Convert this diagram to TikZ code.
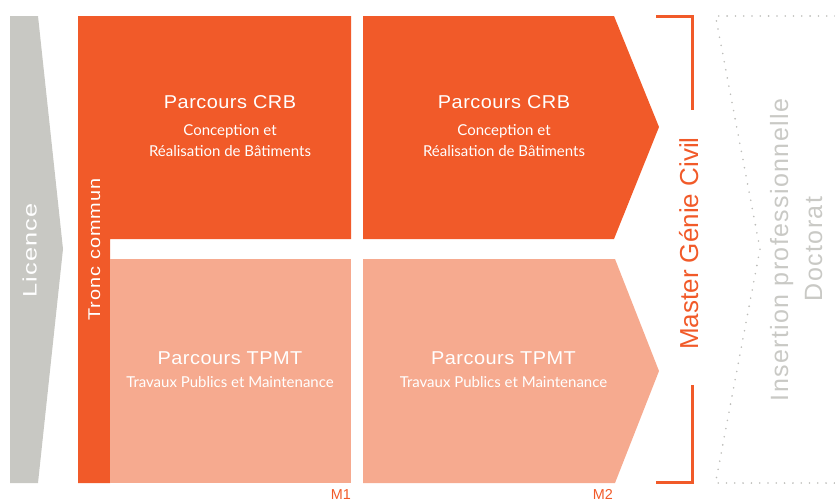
\documentclass[tikz,border=0pt]{standalone}
\usepackage{fontspec}
\setmainfont{Liberation Sans}
\newfontfamily\headfont[LetterSpace=2.5]{Liberation Sans}
\newfontfamily\licfont[LetterSpace=4.5]{Liberation Sans}
\newfontfamily\troncfont[LetterSpace=5]{Liberation Sans}
\newfontfamily\insfont[LetterSpace=5.5]{Liberation Sans}
\newfontfamily\subfont{Lato}
\definecolor{orangeM}{HTML}{F15A29}
\definecolor{paleM}{HTML}{F6AA8F}
\definecolor{grayL}{HTML}{C8C8C3}
\definecolor{grayT}{HTML}{C9C9C5}
\definecolor{grayD}{HTML}{BDBDBA}
\newcommand{\wideh}[1]{\scalebox{1.07}[1]{#1}}
\tikzset{
  heading/.style={text=white, anchor=base, inner sep=0pt, font=\headfont\fontsize{18.6}{20}\selectfont},
  subline/.style={text=white, anchor=base, inner sep=0pt, font=\subfont\fontsize{15}{17}\selectfont},
  mlabel/.style={text=orangeM, anchor=base east, inner sep=0pt, font=\fontsize{14.4}{16}\selectfont},
  vert/.style={rotate=90, anchor=base, inner sep=0pt},
}
\begin{document}
\begin{tikzpicture}[x=1pt,y=-1pt]
\useasboundingbox (0,0) rectangle (835,501);
% Licence arrow
\fill[grayL] (10,16) -- (38,16) -- (63,249) -- (38,483) -- (10,483) -- cycle;
\node[vert, text=white, font=\licfont\fontsize{19.5}{22}\selectfont] (licence) at (36.5,250.5) {\scalebox{1.3}[1]{Licence}};
% M1 top block + tronc commun
\fill[orangeM] (78,16) -- (351,16) -- (351,239) -- (110,239) -- (110,483) -- (78,483) -- cycle;
\fill[paleM] (110,259) rectangle (351,483);
% M2 blocks
\fill[orangeM] (363,16) -- (614,16) -- (659,127) -- (614,239) -- (363,239) -- cycle;
\fill[paleM] (363,259) -- (615,259) -- (659,371) -- (615,483) -- (363,483) -- cycle;
\node[vert, text=white, font=\troncfont\fontsize{17}{20}\selectfont] (tronc) at (100,249.5) {\scalebox{1.17}[1]{Tronc commun}};
% texts M1
\node[heading] (crb1) at (230,108.7) {\wideh{Parcours CRB}};
\node[subline] (crb1a) at (230,135) {Conception et};
\node[subline] (crb1b) at (230,156.5) {Réalisation de Bâtiments};
\node[heading] (tpmt1) at (230,364) {\wideh{Parcours TPMT}};
\node[subline] (tpmt1a) at (230,387.5) {Travaux Publics et Maintenance};
% texts M2
\node[heading] (crb2) at (504,108.7) {\wideh{Parcours CRB}};
\node[subline] (crb2a) at (504,135) {Conception et};
\node[subline] (crb2b) at (504,156.5) {Réalisation de Bâtiments};
\node[heading] (tpmt2) at (503.5,364) {\wideh{Parcours TPMT}};
\node[subline] (tpmt2a) at (503.5,387.5) {Travaux Publics et Maintenance};
% M labels
\node[mlabel] (m1) at (351,499.5) {M1};
\node[mlabel] (m2) at (613,499.5) {M2};
% bracket
\draw[orangeM, line width=3pt] (656,16.5) -- (692.5,16.5) -- (692.5,110);
\draw[orangeM, line width=3pt] (692.5,385) -- (692.5,482.5) -- (656,482.5);
\node[vert, text=orangeM, font=\fontsize{26}{30}\selectfont] (master) at (698,243.5) {Master Génie Civil};
% dotted chevron
\draw[grayD, line width=1.8pt, dash pattern=on 0pt off 8.3pt, line cap=round]
  (835,16) -- (715.5,16) -- (760,249) -- (715.5,483) -- (835,483);
\node[vert, text=grayT, font=\insfont\fontsize{25}{28}\selectfont] (insertion) at (788,250) {Insertion professionnelle};
\node[vert, text=grayT, font=\insfont\fontsize{25}{28}\selectfont] (doctorat) at (822,249) {Doctorat};
\end{tikzpicture}
\end{document}
